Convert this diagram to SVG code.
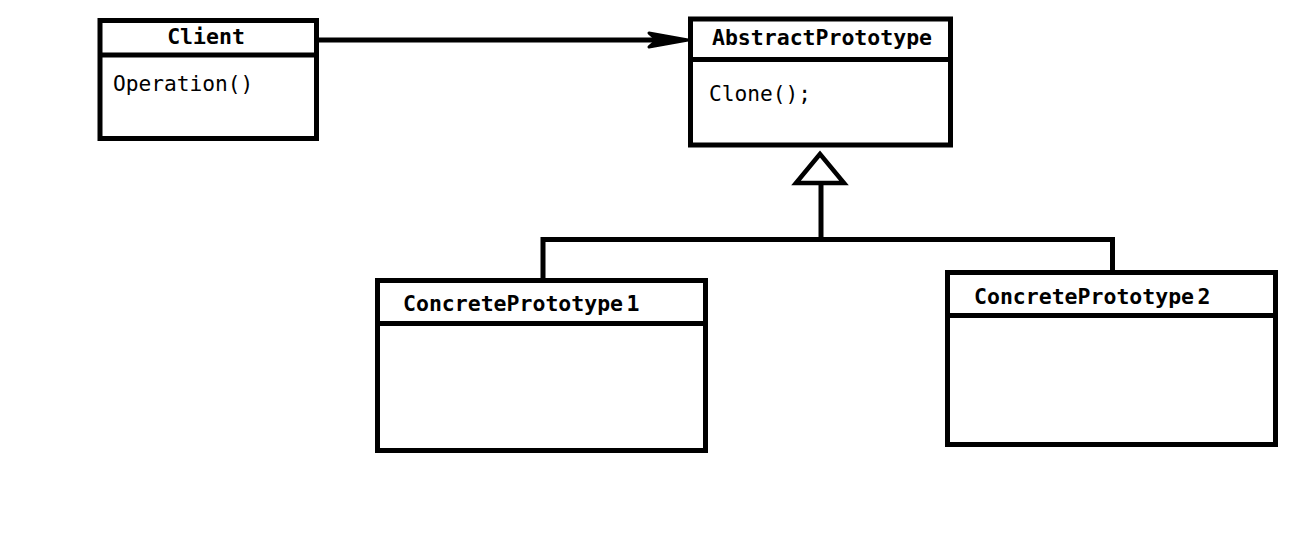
<svg xmlns="http://www.w3.org/2000/svg" width="1310" height="533" viewBox="0 0 1310 533">
<style>
.box{fill:#fff;stroke:#000;stroke-width:5}
.sep{stroke:#000;stroke-width:5}
.title{font-family:"DejaVu Sans Mono","Liberation Mono",monospace;font-weight:bold;font-size:21.5px;fill:#000}
.op{font-family:"DejaVu Sans Mono","Liberation Mono",monospace;font-size:21.2px;fill:#000}
.conn{fill:none;stroke:#000;stroke-width:5}
</style>
<rect width="1310" height="533" fill="#fff"/>
<g id="connectors">
<line class="conn" x1="319" y1="40" x2="660" y2="40"/>
<polygon points="649,33 688,40 649,47 657,40" fill="#000" stroke="#000" stroke-width="3" stroke-linejoin="round"/>
<polygon points="820,154 796,183 844,183" fill="#fff" stroke="#000" stroke-width="4.5"/>
<line class="conn" x1="821" y1="185" x2="821" y2="240"/>
<polyline class="conn" points="543,280 543,239.5 1112.5,239.5 1112.5,272"/>
</g>
<g id="client">
<rect class="box" x="100" y="20.5" width="216.5" height="118"/>
<line class="sep" x1="100" y1="55" x2="316.5" y2="55"/>
<text class="title" x="206" y="44" text-anchor="middle" font-size="21">Client</text>
<text class="op" x="113" y="91">Operation()</text>
</g>
<g id="abstractPrototype">
<rect class="box" x="690.5" y="19" width="260" height="126"/>
<line class="sep" x1="690.5" y1="59.5" x2="950.5" y2="59.5"/>
<text class="title" x="822" y="45" text-anchor="middle">AbstractPrototype</text>
<text class="op" x="709" y="101" font-size="21">Clone();</text>
</g>
<g id="concretePrototype1">
<rect class="box" x="377.5" y="280.5" width="328" height="170"/>
<line class="sep" x1="377.5" y1="323.5" x2="705.5" y2="323.5"/>
<text class="title" x="403" y="311" word-spacing="-9.5">ConcretePrototype 1</text>
</g>
<g id="concretePrototype2">
<rect class="box" x="947.5" y="272.5" width="328" height="172"/>
<line class="sep" x1="947.5" y1="315.5" x2="1275.5" y2="315.5"/>
<text class="title" x="974" y="304" word-spacing="-9.5">ConcretePrototype 2</text>
</g>
</svg>
